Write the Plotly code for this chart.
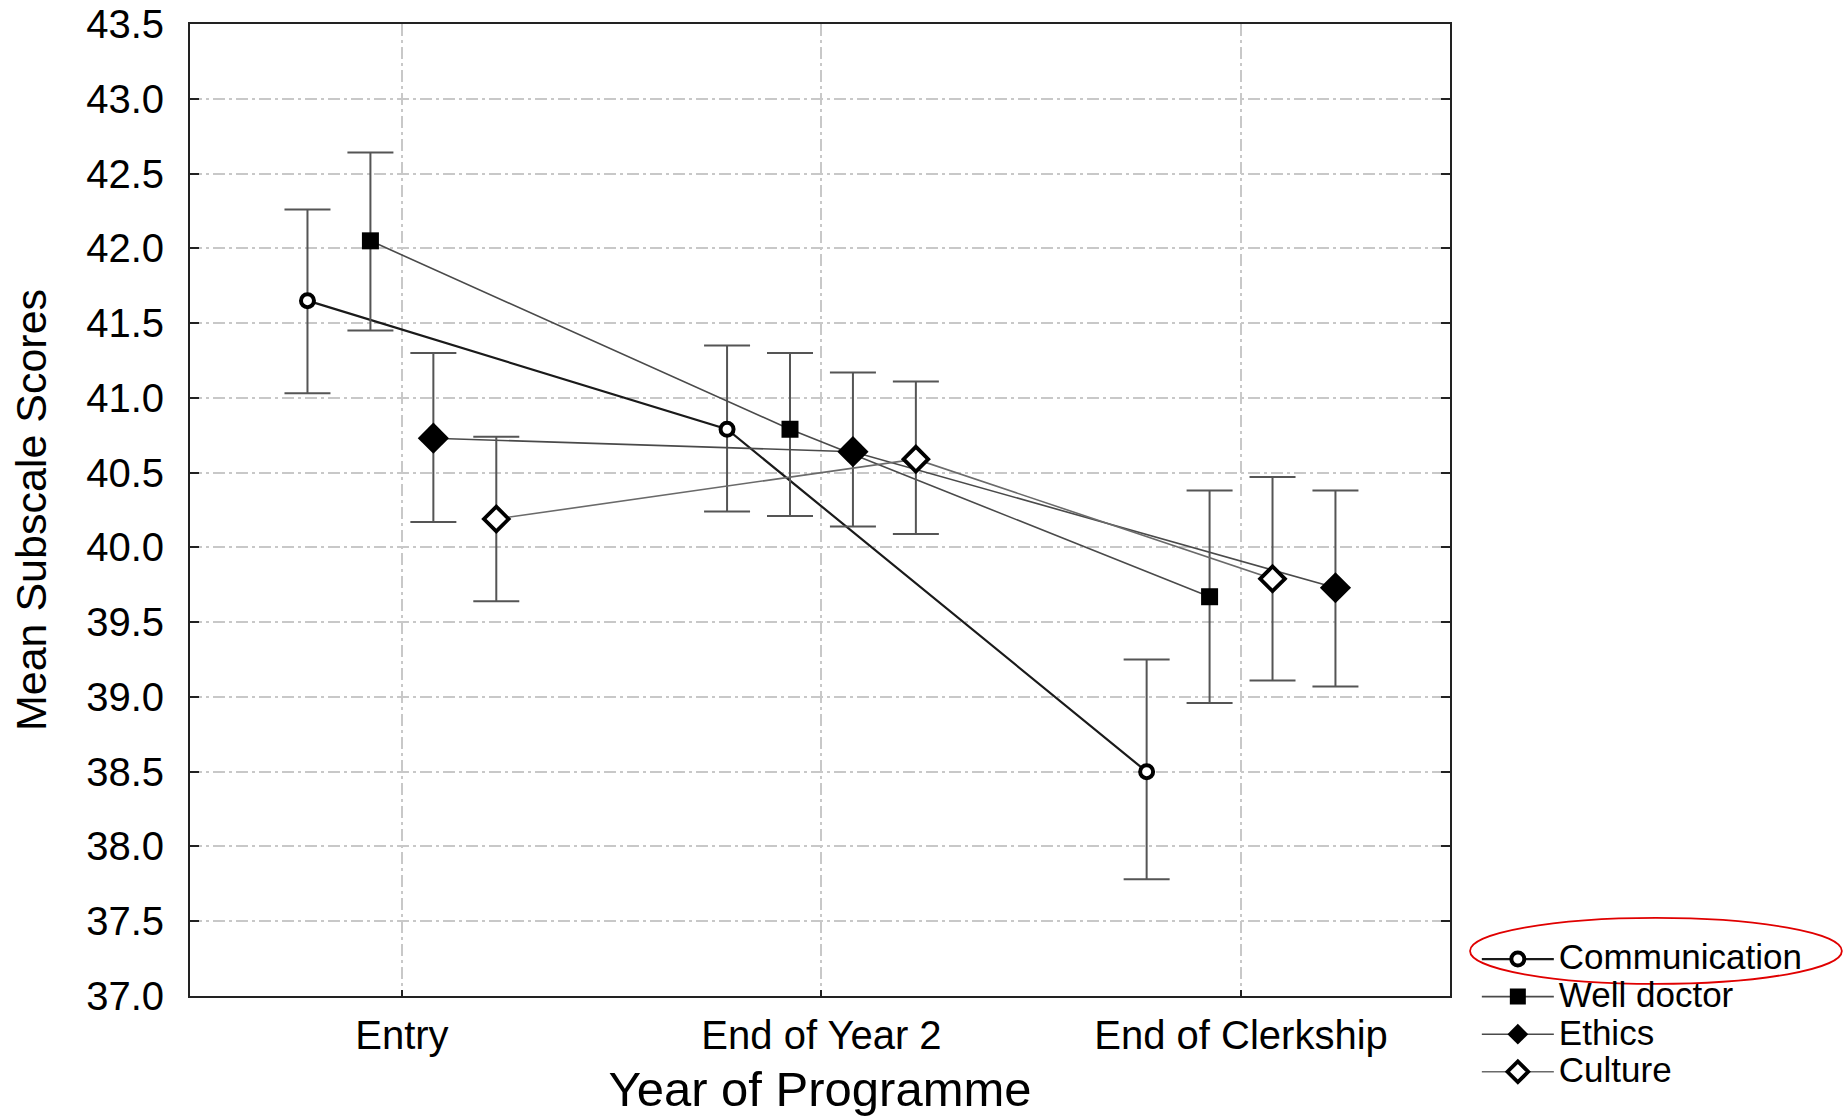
import plotly.graph_objects as go

categories = ["Entry", "End of Year 2", "End of Clerkship"]
series_names = ["Communication", "Well doctor", "Ethics", "Culture"]

comm_mean = [41.65, 40.79, 38.50]
comm_upper = [42.26, 41.35, 39.25]
comm_lower = [41.03, 40.24, 37.78]

well_mean = [42.05, 40.79, 39.67]
well_upper = [42.64, 41.30, 40.38]
well_lower = [41.45, 40.21, 38.96]

ethics_mean = [40.73, 40.64, 39.73]
ethics_upper = [41.30, 41.17, 40.38]
ethics_lower = [40.17, 40.14, 39.07]

culture_mean = [40.19, 40.59, 39.79]
culture_upper = [40.74, 41.11, 40.47]
culture_lower = [39.64, 40.09, 39.11]

# horizontal dodge of each series within a category (as in the original)
comm_offset = [-0.225, -0.225, -0.225]
well_offset = [-0.075, -0.075, -0.075]
ethics_offset = [0.075, 0.075, 0.225]
culture_offset = [0.225, 0.225, 0.075]

FONT = "Liberation Sans, Arial, Helvetica, sans-serif"

specs = [
    ("Communication", comm_mean, comm_upper, comm_lower, comm_offset,
     dict(symbol="circle", size=13, color="white", line=dict(color="black", width=4)),
     dict(color="#1a1a1a", width=2.2)),
    ("Well doctor", well_mean, well_upper, well_lower, well_offset,
     dict(symbol="square", size=17, color="black", line=dict(color="black", width=0)),
     dict(color="#4a4a4a", width=1.6)),
    ("Ethics", ethics_mean, ethics_upper, ethics_lower, ethics_offset,
     dict(symbol="diamond", size=24, color="black", line=dict(color="black", width=0)),
     dict(color="#4a4a4a", width=1.6)),
    ("Culture", culture_mean, culture_upper, culture_lower, culture_offset,
     dict(symbol="diamond", size=19, color="white", line=dict(color="black", width=3.8)),
     dict(color="#6a6a6a", width=1.6)),
]

fig = go.Figure()
for name, mean, up, lo, off, marker, line in specs:
    xs = [i + o for i, o in enumerate(off)]
    fig.add_trace(go.Scatter(
        x=xs, y=mean, mode="lines+markers",
        name='<span style="font-size:35px">' + name + '</span>',
        marker=marker, line=line,
        error_y=dict(type="data", symmetric=False,
                     array=[u - m for u, m in zip(up, mean)],
                     arrayminus=[m - l for m, l in zip(mean, lo)],
                     color="#555555", thickness=2, width=23),
    ))

fig.update_layout(
    width=1843, height=1116,
    margin=dict(l=190, r=393, t=24, b=120, autoexpand=False),
    paper_bgcolor="white", plot_bgcolor="white",
    font=dict(family=FONT, color="black"),
    showlegend=True,
    legend=dict(x=1.0213, y=0.0625, xanchor="left", yanchor="top",
                font=dict(size=26.6, family=FONT), bgcolor="rgba(0,0,0,0)",
                itemwidth=72, tracegroupgap=0),
)

fig.update_xaxes(
    range=[-0.505, 2.498],
    tickmode="array", tickvals=list(range(len(categories))), ticktext=categories,
    tickfont=dict(size=40), ticks="inside", ticklen=6, tickcolor="#222", tickwidth=1.5,
    showgrid=True, gridcolor="#c8c8c8", gridwidth=1.5, griddash="12px,4px,3px,4px",
    showline=True, linecolor="#222", linewidth=2, mirror=True,
    zeroline=False, ticklabelstandoff=3, ticklabeloverflow="allow",
    title=dict(text="Year of Programme", font=dict(size=49), standoff=16),
)
fig.update_yaxes(
    range=[37.0, 43.5], dtick=0.5, tick0=37.0, tickformat=".1f",
    tickfont=dict(size=40), ticks="inside", ticklen=9, tickcolor="#222", tickwidth=2,
    showgrid=True, gridcolor="#c8c8c8", gridwidth=1.5, griddash="12px,4px,3px,4px",
    showline=True, linecolor="#222", linewidth=2, mirror="ticks",
    zeroline=False, ticklabelstandoff=16, ticklabeloverflow="allow",
    title=dict(text="Mean Subscale Scores", font=dict(size=43), standoff=26),
)

# red highlight ellipse around the "Communication" legend entry
fig.add_shape(type="circle", xref="paper", yref="paper",
              x0=1.0159, x1=1.311, y0=0.0124, y1=0.0803,
              line=dict(color="#e00000", width=1.8))

fig.write_html("out.html", config={"displayModeBar": False},
               post_script="document.body.style.margin='0';")
